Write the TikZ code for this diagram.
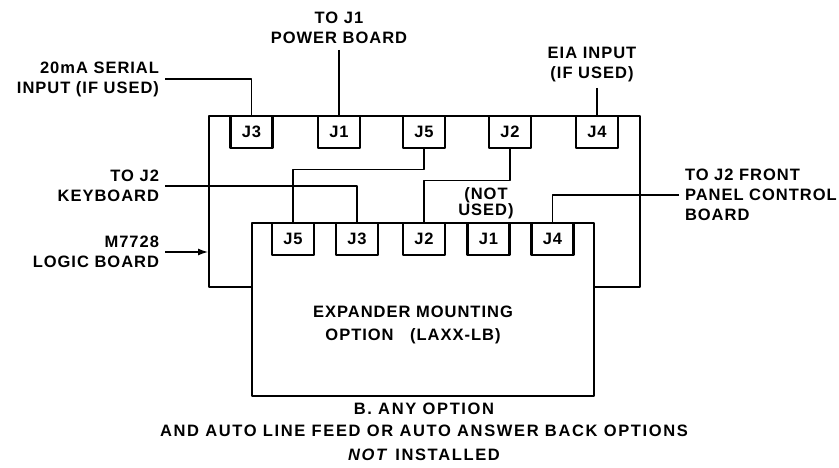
\documentclass[tikz,border=0pt]{standalone}
\usepackage{fontspec}
\newfontfamily\plotfont[LetterSpace=6]{Liberation Sans}
\newfontfamily\notefont[LetterSpace=10]{Liberation Sans}
\usetikzlibrary{arrows.meta}

\begin{document}
\begin{tikzpicture}[x=1pt, y=-1pt, line join=round,
  font=\plotfont\bfseries\fontsize{16.5}{20}\selectfont,
  board/.style={draw, line width=2.3pt, fill=white, inner sep=0pt},
  jack/.style={draw, line width=2.3pt, fill=white, anchor=north,
    minimum width=42pt, minimum height=32pt, inner sep=0pt},
  wire/.style={line width=1.3pt},
  lbl/.style={inner sep=0pt, outer sep=6pt, align=center}]
  \useasboundingbox (0,0) rectangle (839,468);

  % 逻辑板及其插座
  \node[board, anchor=north west, minimum width=431pt, minimum height=171pt] (logic) at (208,115) {};
  \foreach \n/\x in {3/251.5, 1/339, 5/424, 2/510, 4/597}
    \node[jack] (lJ\n) at (\x,115) {J\n};

  % 扩展板及其插座
  \node[board, anchor=north west, minimum width=342pt, minimum height=173pt] (expander) at (251,222) {};
  \foreach \n/\x in {5/293, 3/357, 2/424, 1/488.5, 4/552.5}
    \node[jack] (xJ\n) at (\x,222) {J\n};
  \node[lbl] (exptext) at (413,325) {EXPANDER MOUNTING\\[3pt]OPTION\quad(LAXX-LB)};
  \node[lbl] (notused) at (486,203) {(NOT\\[-4pt]USED)};

  % 标注
  \node[lbl, anchor=east, align=right] (serial) at (165,79) {20mA SERIAL\\INPUT (IF USED)};
  \node[lbl, anchor=south] (power) at (339,50) {TO J1\\POWER BOARD};
  \node[lbl, anchor=south] (eia) at (592,88) {EIA INPUT\\(IF USED)};
  \node[lbl, anchor=east, align=right] (kbd) at (165,186) {TO J2\\KEYBOARD};
  \node[lbl, anchor=east, align=right] (m7728) at (165,252) {M7728\\LOGIC BOARD};
  \node[lbl, anchor=west, align=left] (fpc) at (679,195) {TO J2 FRONT\\PANEL CONTROL\\BOARD};

  % 连线
  \draw[wire] (serial.east) -| (lJ3.north);
  \draw[wire] (power.south) -- (lJ1.north);
  \draw[wire] (lJ4.north |- eia.south) -- (lJ4.north);
  \draw[wire] (lJ5.south) -- ++(0,20) -| (xJ5.north);
  \draw[wire] (lJ2.south) -- ++(0,31) -| (xJ2.north);
  \draw[wire] (kbd.east) -| (xJ3.north);
  \draw[wire] (fpc.west) -| (xJ4.north);
  \draw[wire, -{Latex[length=10pt, width=7pt]}] (m7728.east) -- (logic.west |- m7728.east);

  % 说明
  \node[lbl, font=\notefont\bfseries\fontsize{16.5}{22}\selectfont] (caption) at (424,432)
    {B. ANY OPTION\\AND AUTO LINE FEED OR AUTO ANSWER BACK OPTIONS\\[2pt]\textit{NOT} INSTALLED};
\end{tikzpicture}
\end{document}
